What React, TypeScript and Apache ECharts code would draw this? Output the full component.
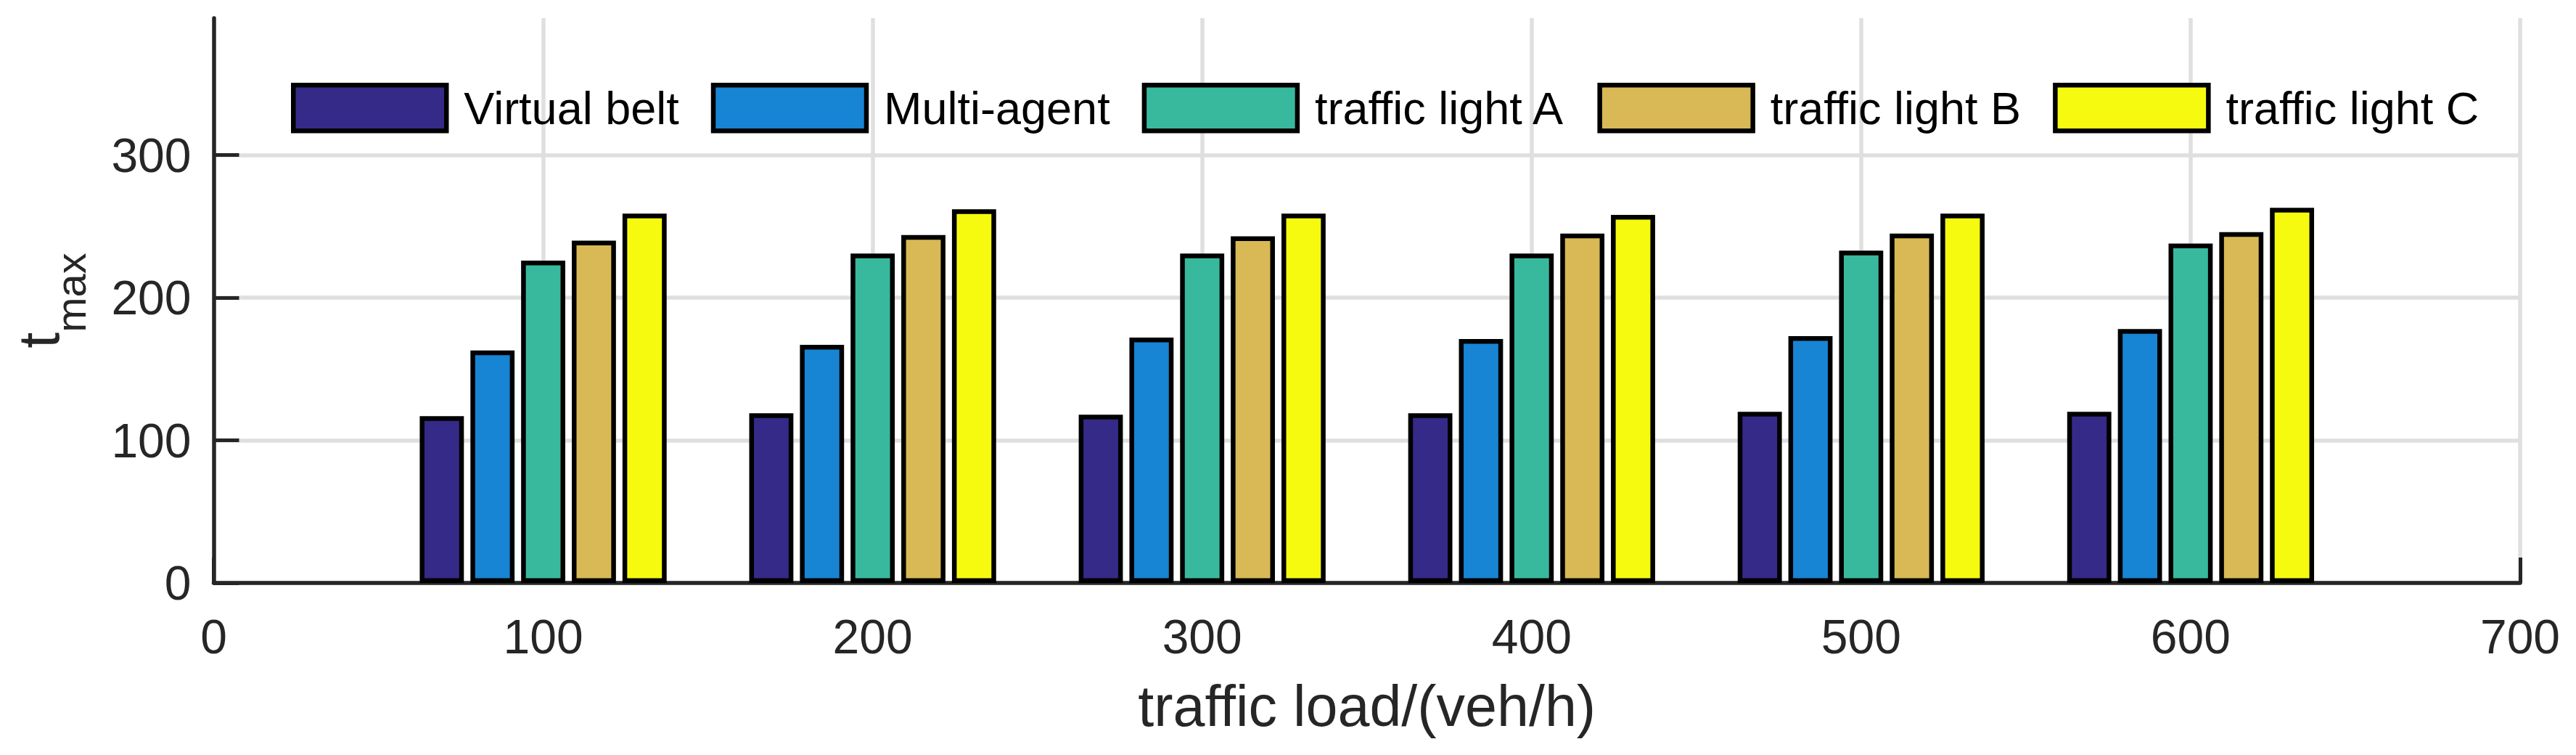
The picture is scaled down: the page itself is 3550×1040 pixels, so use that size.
import React, { useEffect, useRef } from "react";
import * as echarts from "echarts";

const loads = [100, 200, 300, 400, 500, 600];
const seriesNames = ["Virtual belt", "Multi-agent", "traffic light A", "traffic light B", "traffic light C"];
const virtualBelt = [117, 119, 118, 119, 120, 120];
const multiAgent = [163, 167, 172, 171, 173, 178];
const lightA = [226, 231, 231, 231, 233, 238];
const lightB = [240, 244, 243, 245, 245, 246];
const lightC = [259, 262, 259, 258, 259, 263];
const colors = ["#352A87", "#1784D4", "#38B99E", "#D8B955", "#F6FA0F"];
const yTicks = [0, 100, 200, 300];

const FONT = "'Liberation Sans', Arial, Helvetica, sans-serif";
const AX = "#262626";

export default function App() {
  const ref = useRef<HTMLDivElement>(null);
  useEffect(() => {
    if (!ref.current) return;
    const chart = echarts.init(ref.current, null, { renderer: "svg" });
    const all = [virtualBelt, multiAgent, lightA, lightB, lightC];
    const series = all.map((vals, i) => ({
      name: seriesNames[i],
      type: "bar",
      data: loads.map((x, j) => [x, vals[j]]),
      barWidth: "13.4%",
      barGap: "14.8%",
      itemStyle: { color: colors[i], borderColor: "#000", borderWidth: 6.5 },
    }));
    chart.setOption({
      animation: false,
      backgroundColor: "#fff",
      textStyle: { fontFamily: FONT },
      grid: { left: 294.5, right: 77, top: 25, bottom: 237, containLabel: false, outerBoundsMode: "none" },
      legend: {
        show: true,
        left: 396,
        top: 109,
        orient: "horizontal",
        icon: "rect",
        itemWidth: 211,
        itemHeight: 63,
        itemGap: 44,
        itemStyle: { borderColor: "#000", borderWidth: 6.5 },
        textStyle: { fontSize: 63, color: "#000", fontFamily: FONT, lineHeight: 63, padding: [0, 0, 0, 19] },
        selectedMode: false,
        data: seriesNames,
      },
      xAxis: {
        type: "value",
        min: 0,
        max: 700,
        interval: 100,
        name: "traffic load/(veh/h)",
        nameLocation: "middle",
        nameGap: 130,
        nameMoveOverlap: false,
        nameTextStyle: { fontSize: 79, lineHeight: 79, color: AX, fontFamily: FONT },
        axisLine: { show: true, onZero: false, lineStyle: { color: AX, width: 5.5 } },
        axisTick: { show: true, inside: true, length: 35, lineStyle: { color: AX, width: 5 } },
        axisLabel: { fontSize: 66, lineHeight: 66, color: AX, margin: 41, fontFamily: FONT, hideOverlap: false },
        splitLine: { show: true, showMinLine: false, lineStyle: { color: "#DFDFDF", width: 5.5 } },
      },
      yAxis: {
        type: "value",
        min: 0,
        max: 396,
        interval: 100,
        name: "{t|t}{s|max}",
        nameLocation: "middle",
        nameRotate: 90,
        nameGap: 201,
        nameMoveOverlap: false,
        nameTextStyle: {
          rich: {
            t: { fontSize: 79, lineHeight: 80, verticalAlign: "top", color: AX, fontFamily: FONT },
            s: { fontSize: 58, lineHeight: 58, padding: [55, 0, 0, 0], verticalAlign: "top", color: AX, fontFamily: FONT },
          },
        },
        axisLine: { show: true, onZero: false, lineStyle: { color: AX, width: 5.5 } },
        axisTick: { show: true, inside: true, length: 35, customValues: yTicks, lineStyle: { color: AX, width: 5 } },
        axisLabel: {
          fontSize: 66,
          lineHeight: 66,
          color: AX,
          margin: 31,
          fontFamily: FONT,
          customValues: yTicks,
          padding: [7, 0, 0, 0],
        },
        splitLine: { show: true, lineStyle: { color: "#DFDFDF", width: 5.5 } },
      },
      series,
    });
    return () => chart.dispose();
  }, []);
  return (
    <div
      ref={ref}
      style={{ position: "fixed", left: 0, top: 0, width: 3550, height: 1040, background: "#fff" }}
    />
  );
}
